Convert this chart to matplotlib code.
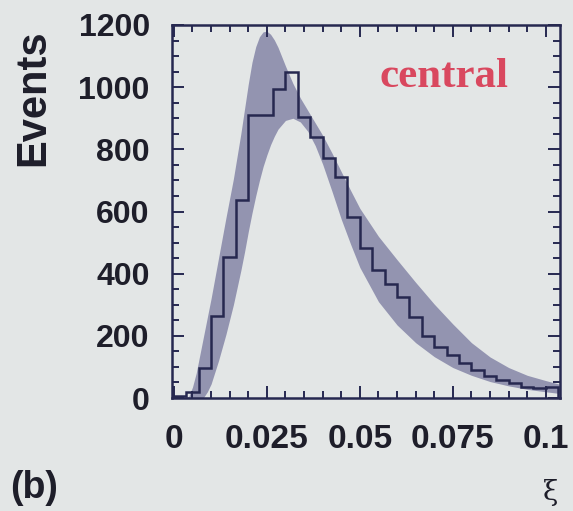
import numpy as np
import matplotlib
matplotlib.use("Agg")
from matplotlib import pyplot as plt
from matplotlib.ticker import MultipleLocator

# histogramme des donnees (31 bins de largeur 0.1/30)
bin_width = 0.1 / 30
counts = [5, 18, 97, 263, 453, 638, 910, 910, 995, 1050,
          903, 839, 773, 710, 582, 484, 413, 368, 325, 262,
          200, 165, 138, 112, 90, 70, 58, 48, 35, 32, 35]

# bande d'incertitude
band_x = [0.000, 0.002, 0.004, 0.005, 0.006, 0.007, 0.008, 0.009, 0.010, 0.012,
          0.014, 0.016, 0.018, 0.019, 0.020, 0.021, 0.022, 0.023, 0.024, 0.025,
          0.026, 0.027, 0.028, 0.030, 0.032, 0.034, 0.036, 0.038, 0.040, 0.0425,
          0.045, 0.0475, 0.050, 0.055, 0.060, 0.065, 0.070, 0.075, 0.080, 0.085,
          0.090, 0.095, 0.100, 0.1035]
band_lo = [0, 0, 0, 0, 0, 0, 2, 20, 45, 120,
           205, 300, 410, 470, 535, 595, 650, 700, 745, 782,
           815, 842, 865, 893, 900, 888, 858, 812, 752, 665,
           575, 495, 420, 310, 235, 178, 133, 98, 73, 53,
           39, 28, 20, 15]
band_hi = [0, 0, 5, 35, 80, 140, 200, 260, 320, 450,
           580, 705, 850, 930, 1010, 1080, 1130, 1162, 1178, 1180,
           1170, 1152, 1128, 1068, 1012, 965, 925, 885, 845, 788,
           728, 668, 610, 520, 445, 372, 302, 238, 178, 132,
           98, 73, 56, 45]

x_ticks = [0, 0.025, 0.05, 0.075, 0.1]
x_labels = ["0", "0.025", "0.05", "0.075", "0.1"]
y_ticks = [0, 200, 400, 600, 800, 1000, 1200]

bg = "#e3e6e6"
ink = "#262850"

plt.rcParams['font.family'] = ['Liberation Sans', 'DejaVu Sans']

fig = plt.figure(figsize=(5.73, 5.11), dpi=100, facecolor=bg)
ax = fig.add_axes([0.3002, 0.2211, 0.6771, 0.7300], facecolor=bg)

edges = np.arange(len(counts) + 1) * bin_width
ax.fill_between(band_x, band_lo, band_hi, color="#8a8bab", alpha=0.9, linewidth=0)
ax.stairs(counts, edges, color=ink, linewidth=1.8)

ax.set_xlim(-0.0005, 0.1038)
ax.set_ylim(0, 1200)

ax.set_xticks(x_ticks)
ax.set_xticklabels(x_labels)
ax.set_yticks(y_ticks)
ax.xaxis.set_minor_locator(MultipleLocator(0.005))
ax.yaxis.set_minor_locator(MultipleLocator(50))

ax.tick_params(which="both", direction="in", top=True, right=True, color=ink, width=1.4)
ax.tick_params(which="major", length=8.5)
ax.tick_params(which="minor", length=5)
ax.tick_params(axis="x", which="major", pad=19, labelsize=24, labelcolor="#1e1e2a")
ax.tick_params(axis="y", which="major", pad=16, labelsize=23, labelcolor="#1e1e2a")
ax.tick_params(labelright=False, labeltop=False)
for lab in ax.get_xticklabels() + ax.get_yticklabels():
    lab.set_fontweight("bold")

for sp in ax.spines.values():
    sp.set_color(ink)
    sp.set_linewidth(1.8)

ax.text(0.536, 0.834, "central", transform=ax.transAxes, ha="left", va="baseline",
        fontsize=31, fontweight="bold", color="#d9485f", family="Liberation Serif")

fig.text(33 / 573, 1 - 98 / 511, "Events", rotation=90, ha="center", va="center",
         fontsize=30, fontweight="bold", color="#1e1e2a")
fig.text(10 / 573, 1 - 488 / 511, "(b)", ha="left", va="center",
         fontsize=27, fontweight="bold", color="#1e1e2a")
fig.text(551 / 573, 1 - 492 / 511, "ξ", ha="center", va="center",
         fontsize=20, color="#1e1e2a", family="DejaVu Serif")

fig.savefig("out.png", dpi=100, facecolor=bg)
